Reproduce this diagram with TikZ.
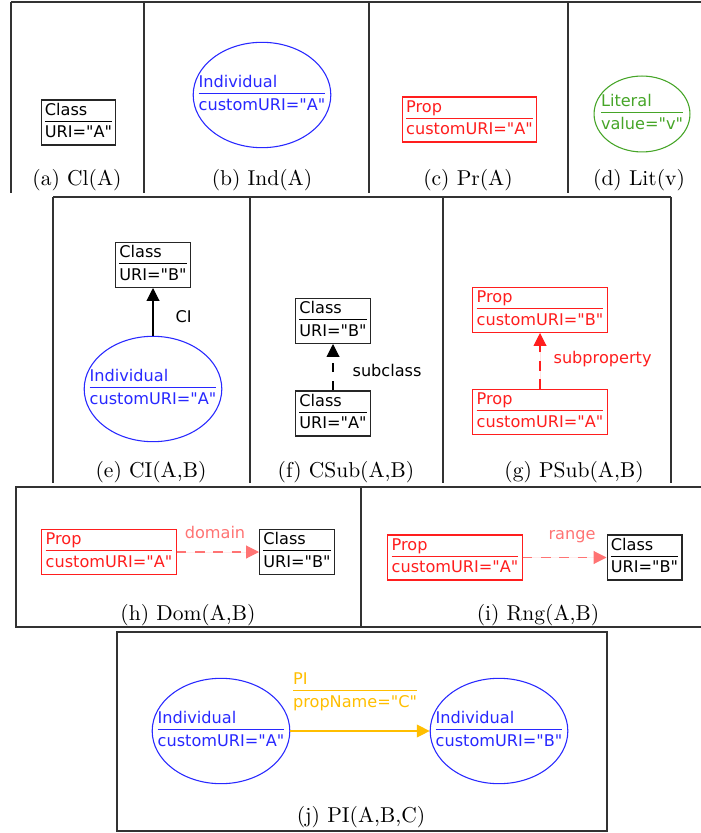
\documentclass[tikz,border=0pt]{standalone}
\usepackage{fontspec}
\usepackage{xcolor}
\usetikzlibrary{shapes.geometric, arrows.meta}
\newfontfamily\dejavu{DejaVu Sans}
\definecolor{indblue}{RGB}{40,40,255}
\definecolor{propred}{RGB}{255,30,30}
\definecolor{litgreen}{RGB}{70,165,40}
\definecolor{edgesalmon}{RGB}{255,115,115}
\definecolor{piyellow}{RGB}{255,190,0}
\definecolor{framegray}{RGB}{50,50,50}
\newcommand{\twopart}[2]{\begin{tabular}{@{}l@{}}#1\\\hline\rule{0pt}{7.4pt}#2\end{tabular}}
\tikzset{
  nodefont/.style={font=\dejavu\fontsize{7.5}{9}\selectfont},
  clsbox/.style={nodefont, rectangle, draw=black!85, text=black, line width=0.5pt, inner xsep=1.8pt, inner ysep=0.7pt},
  propbox/.style={clsbox, draw=propred, text=propred},
  indiv/.style={nodefont, ellipse, draw=indblue, text=indblue, line width=0.5pt, inner sep=-10pt, minimum width=64pt, minimum height=49pt},
  litnode/.style={nodefont, ellipse, draw=litgreen, text=litgreen, line width=0.5pt, inner sep=-10pt, minimum width=44.6pt, minimum height=35.3pt},
  captext/.style={font=\normalsize},
  frame/.style={line width=0.5pt, draw=framegray},
  isa/.style={-{Triangle[width=6pt,length=6pt]}, line width=0.5pt},
  dashedge/.style={isa, dash pattern=on 4.5pt off 4pt},
}
\begin{document}
\begin{tikzpicture}[x=0.465pt, y=-0.465pt]
\useasboundingbox (0,0) rectangle (701,833);
% frames
\draw[frame] (11,2) -- (701,2);
\foreach \xx in {11,144,369,568} \draw[frame] (\xx,2) -- (\xx,193);
\draw[frame] (53,197) -- (671,197);
\foreach \xx in {53,250,443,671} \draw[frame] (\xx,197) -- (\xx,483);
\draw[frame] (701,487) -- (16,487) -- (16,627) -- (701,627);
\draw[frame] (361,487) -- (361,627);
\draw[frame] (117,632) rectangle (607,831);

% (a)
\node[clsbox] (clsA) at (78.5,122.5) {\twopart{Class}{URI="A"}};
\node[captext] (capa) at (77,180) {(a) Cl(A)};
% (b)
\node[indiv] (indA) at (262,95) {\twopart{Individual}{customURI="A"}};
\node[captext] (capb) at (262,180) {(b) Ind(A)};
% (c)
\node[propbox] (prA) at (469.5,119.5) {\twopart{Prop}{customURI="A"}};
\node[captext] (capc) at (468,180) {(c) Pr(A)};
% (d)
\node[litnode] (litv) at (642,114) {\twopart{Literal}{value="v"}};
\node[captext] (capd) at (639,180) {(d) Lit(v)};

% (e)
\node[clsbox] (eclsB) at (153,265) {\twopart{Class}{URI="B"}};
\node[indiv] (eindA) at (153,389) {\twopart{Individual}{customURI="A"}};
\draw[isa] (eindA.north) -- (eclsB.south);
\node[nodefont, anchor=west] (elab) at (168,317) {CI};
\node[captext] (cape) at (151,472) {(e) CI(A,B)};
% (f)
\node[clsbox] (fclsB) at (333,321) {\twopart{Class}{URI="B"}};
\node[clsbox] (fclsA) at (333,413.5) {\twopart{Class}{URI="A"}};
\draw[dashedge] (fclsA.north) -- (fclsB.south);
\node[nodefont, anchor=west] (flab) at (345,370) {subclass};
\node[captext] (capf) at (346,472) {(f) CSub(A,B)};
% (g)
\node[propbox] (gprB) at (540,310) {\twopart{Prop}{customURI="B"}};
\node[propbox] (gprA) at (540,412) {\twopart{Prop}{customURI="A"}};
\draw[dashedge, draw=propred, fill=propred] (gprA.north) -- (gprB.south);
\node[nodefont, text=propred, anchor=west] (glab) at (546,359) {subproperty};
\node[captext] (capg) at (574,472) {(g) PSub(A,B)};

% (h)
\node[propbox] (hprA) at (109,552) {\twopart{Prop}{customURI="A"}};
\node[clsbox] (hclsB) at (297,552) {\twopart{Class}{URI="B"}};
\draw[dashedge, draw=edgesalmon, fill=edgesalmon] (hprA.east) -- (hclsB.west);
\node[nodefont, text=edgesalmon] (hlab) at (215,532) {domain};
\node[captext] (caph) at (188,615) {(h) Dom(A,B)};
% (i)
\node[propbox] (iprA) at (455,557.5) {\twopart{Prop}{customURI="A"}};
\node[clsbox] (iclsB) at (644.5,557.5) {\twopart{Class}{URI="B"}};
\draw[dashedge, draw=edgesalmon, fill=edgesalmon] (iprA.east) -- (iclsB.west);
\node[nodefont, text=edgesalmon] (ilab) at (572,537) {range};
\node[captext] (capi) at (538,615) {(i) Rng(A,B)};

% (j)
\node[indiv] (jindA) at (221,731) {\twopart{Individual}{customURI="A"}};
\node[indiv] (jindB) at (499,731) {\twopart{Individual}{customURI="B"}};
\draw[isa, draw=piyellow, fill=piyellow] (jindA.east) -- (jindB.west);
\node[nodefont, text=piyellow] (jlab) at (355,692) {\twopart{PI}{propName="C"}};
\node[captext] (capj) at (361,817) {(j) PI(A,B,C)};
\end{tikzpicture}
\end{document}
